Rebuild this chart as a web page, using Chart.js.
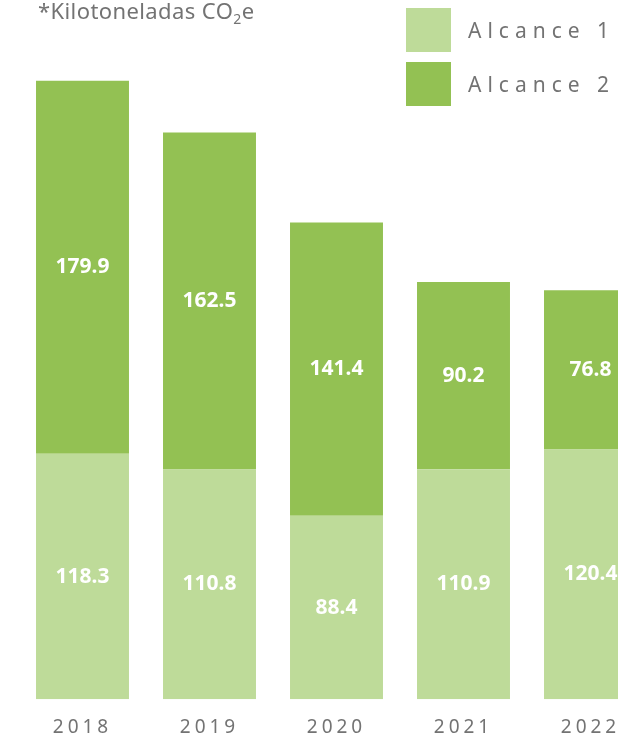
<!DOCTYPE html>
<html>
<head>
<meta charset="utf-8">
<script src="https://cdn.jsdelivr.net/npm/chart.js@4.4.1/dist/chart.umd.min.js"></script>
<style>
  html, body { margin: 0; padding: 0; background: #fff; overflow: hidden; }
  #wrap { position: relative; width: 618px; height: 733px; overflow: hidden; font-family: "Noto Sans", sans-serif; }
  #chartBox { position: absolute; left: 0; top: 0; width: 660px; height: 756px; }
  #title { position: absolute; left: 38px; top: 0; font-size: 22px; line-height: 21px; letter-spacing: 0.4px; color: #737373; white-space: nowrap; }
  #title sub { font-size: 14px; vertical-align: -5px; line-height: 0; }
  .leg { position: absolute; left: 406px; height: 44px; display: flex; align-items: center; }
  .leg span.box { width: 45px; height: 44px; display: inline-block; }
  .leg span.txt { margin-left: 17px; font-size: 21px; letter-spacing: 6px; color: #737373; line-height: 44px; white-space: nowrap; }
</style>
</head>
<body>
<div id="wrap">
  <div id="chartBox"><canvas id="emisionesCanvas" width="660" height="756"></canvas></div>
  <div id="title">*Kilotoneladas CO<sub>2</sub>e</div>
  <div id="legend"></div>
</div>
<script>
// Data
const years = ['2018', '2019', '2020', '2021', '2022'];
const alcance1 = [118.3, 110.8, 88.4, 110.9, 120.4];
const alcance2 = [179.9, 162.5, 141.4, 90.2, 76.8];
const seriesNames = ['Alcance 1', 'Alcance 2'];
const seriesColors = ['#bedb99', '#93c153'];

// Build the legend from the series
const legendBox = document.getElementById('legend');
seriesNames.forEach((name, i) => {
    const row = document.createElement('div');
    row.className = 'leg';
    row.style.top = (8 + i * 54) + 'px';
    row.innerHTML = '<span class="box" style="background:' + seriesColors[i] + '"></span><span class="txt">' + name + '</span>';
    legendBox.appendChild(row);
});

// Spaced year labels + white values inside each bar segment
const labelPlugin = {
    id: 'labelPlugin',
    beforeDraw(chart) {
        chart.ctx.letterSpacing = '4px';
    },
    beforeDatasetsDraw(chart) {
        chart.ctx.letterSpacing = '0px';
    },
    afterDatasetsDraw(chart) {
        const ctx = chart.ctx;
        ctx.save();
        ctx.letterSpacing = '0px';
        ctx.fillStyle = '#ffffff';
        ctx.font = 'bold 21px "Noto Sans"';
        ctx.textAlign = 'center';
        ctx.textBaseline = 'middle';
        chart.data.datasets.forEach((ds, d) => {
            const meta = chart.getDatasetMeta(d);
            meta.data.forEach((bar, i) => {
                const mid = (bar.y + bar.base) / 2;
                ctx.fillText(ds.data[i].toFixed(1), bar.x, mid);
            });
        });
        ctx.restore();
    }
};

const ctx = document.getElementById('emisionesCanvas').getContext('2d');

let myChart = new Chart(ctx, {
    type: 'bar',
    data: {
        labels: years,
        datasets: [{
            label: seriesNames[0],
            data: alcance1,
            backgroundColor: seriesColors[0]
        }, {
            label: seriesNames[1],
            data: alcance2,
            backgroundColor: seriesColors[1]
        }]
    },
    options: {
        responsive: false,
        animation: false,
        layout: {
            padding: { left: 19, right: 6, top: 77, bottom: 0 }
        },
        datasets: {
            bar: {
                barPercentage: 0.732,
                categoryPercentage: 1
            }
        },
        scales: {
            x: {
                stacked: true,
                grid: { display: false, drawTicks: false },
                border: { display: false },
                ticks: {
                    color: '#737373',
                    font: { family: 'Noto Sans', size: 19 },
                    padding: 17
                }
            },
            y: {
                stacked: true,
                display: false,
                min: 0,
                max: 300
            }
        },
        plugins: {
            legend: { display: false },
            tooltip: { enabled: false }
        }
    },
    plugins: [labelPlugin]
});
</script>
</body>
</html>
